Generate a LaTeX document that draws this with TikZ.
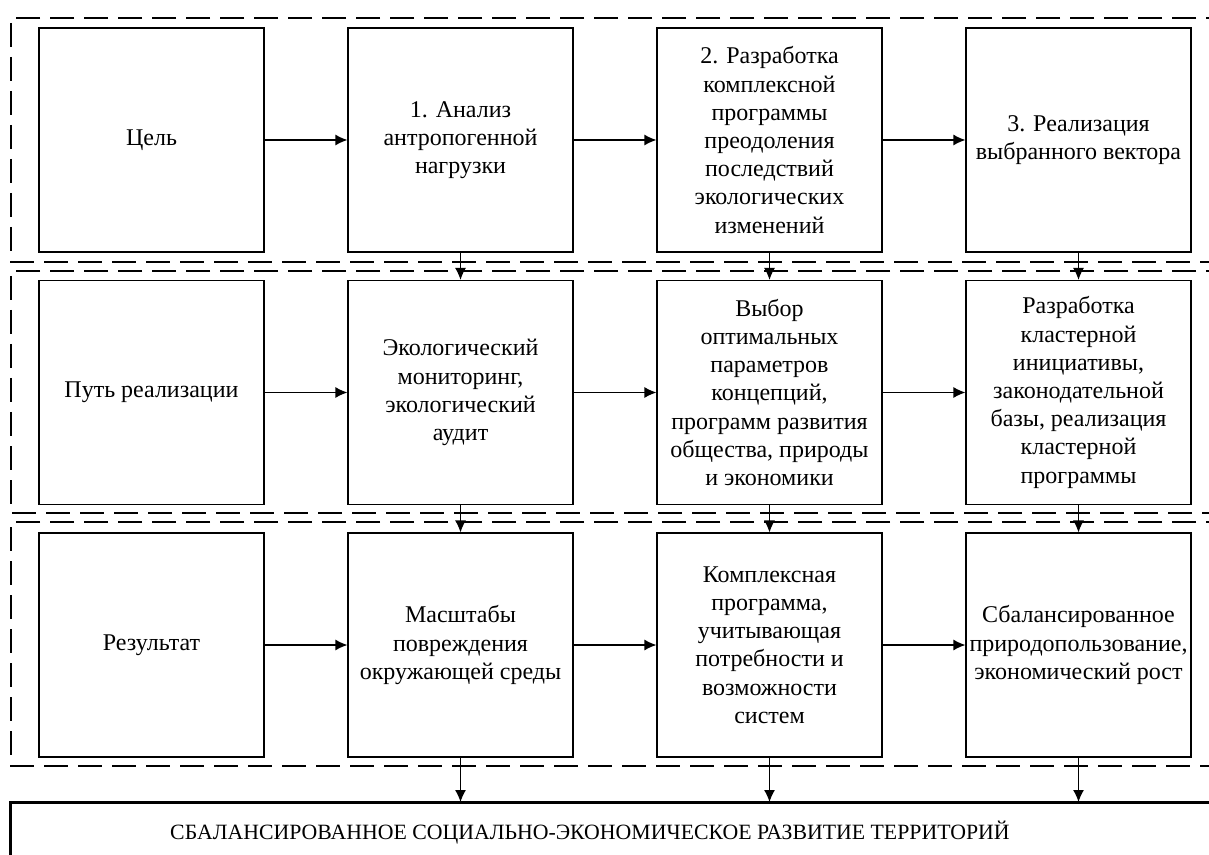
\documentclass[tikz,border=0pt]{standalone}
\usepackage{fontspec}
\setmainfont{Liberation Serif}
\usetikzlibrary{arrows.meta}

\tikzset{
  stage/.style = {draw, line width=0.6pt, minimum width=112.5pt, minimum height=112pt,
    align=center, inner sep=1pt, font=\fontsize{12}{14.1}\selectfont},
  frame/.style = {line width=1.2pt, dash pattern=on 12pt off 5pt},
  link/.style = {-{Latex[length=6pt,width=5.5pt]}, line width=0.6pt}
}

\begin{document}
\begin{tikzpicture}[x=0.5pt, y=-0.5pt]
\useasboundingbox (0,0) rectangle (1209,855);
\clip (0,0) rectangle (1209,855);

% dashed frames of the three levels
\draw[frame] (1230,18) -- (11,18) -- (11,262) -- (1230,262);
\draw[frame] (1230,271) -- (11,271) -- (11,513) -- (1230,513);
\draw[frame] (1230,522) -- (11,522) -- (11,766) -- (1230,766);

% level 1
\node[stage] (goal)  at (151.5,140) {Цель};
\node[stage] (goalA) at (460.5,140) {1. Анализ\\антропогенной\\нагрузки};
\node[stage] (goalB) at (769.5,140) {2. Разработка\\комплексной\\программы\\преодоления\\последствий\\экологических\\изменений};
\node[stage] (goalC) at (1078.5,140) {3. Реализация\\выбранного вектора};

% level 2
\node[stage] (path)  at (151.5,392.5) {Путь реализации};
\node[stage] (pathA) at (460.5,392.5) {Экологический\\мониторинг,\\экологический\\аудит};
\node[stage] (pathB) at (769.5,392.5) {Выбор\\оптимальных\\параметров\\концепций,\\программ развития\\общества, природы\\и экономики};
\node[stage] (pathC) at (1078.5,392.5) {Разработка\\кластерной\\инициативы,\\законодательной\\базы, реализация\\кластерной\\программы};

% level 3
\node[stage] (res)  at (151.5,645) {Результат};
\node[stage] (resA) at (460.5,645) {Масштабы\\повреждения\\окружающей среды};
\node[stage] (resB) at (769.5,645) {Комплексная\\программа,\\учитывающая\\потребности и\\возможности\\систем};
\node[stage] (resC) at (1078.5,645) {Сбалансированное\\природопользование,\\экономический рост};

% final box
\draw[line width=1.5pt] (1230,802) -- (10,802) -- (10,870);
\coordinate (fin) at (0,802);
\node[font=\fontsize{10.9}{13}\selectfont] (final) at (590,833)
  {СБАЛАНСИРОВАННОЕ СОЦИАЛЬНО-ЭКОНОМИЧЕСКОЕ РАЗВИТИЕ ТЕРРИТОРИЙ};

% horizontal links
\foreach \r in {goal,path,res} {
  \draw[link] (\r) -- (\r A);
  \draw[link] (\r A) -- (\r B);
  \draw[link] (\r B) -- (\r C);
}

% vertical links
\foreach \c in {A,B,C} {
  \draw[link] (goal\c) -- (path\c);
  \draw[link] (path\c) -- (res\c);
  \draw[link] (res\c.south) -- (res\c.south |- fin);
}

\end{tikzpicture}
\end{document}
